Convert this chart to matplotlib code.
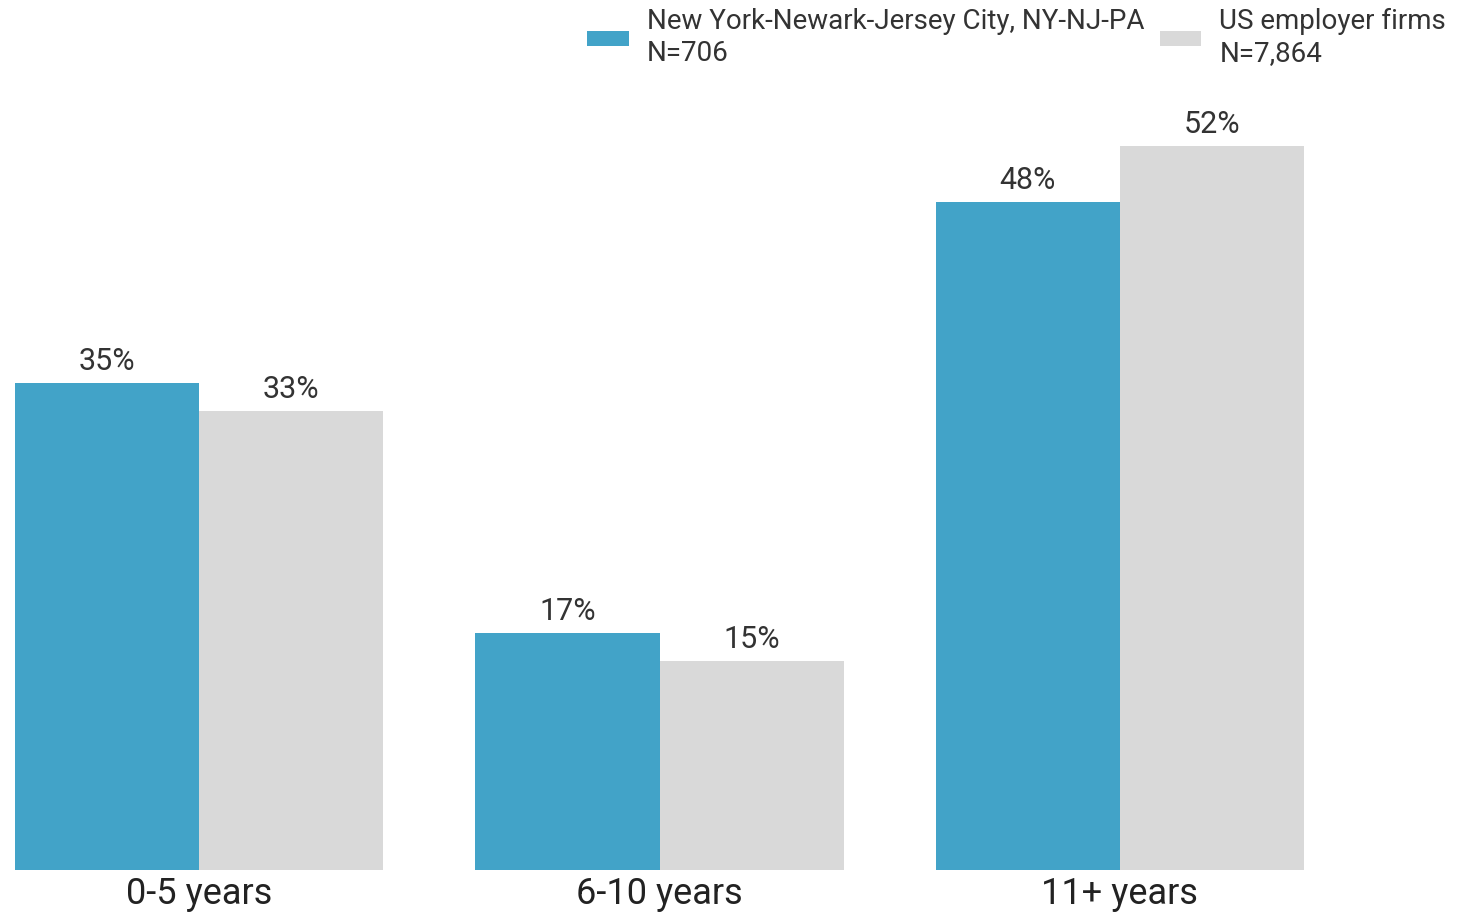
import numpy as np
import matplotlib.pyplot as plt

plt.rcParams['font.family'] = ['Roboto', 'DejaVu Sans']

categories = ['0-5 years', '6-10 years', '11+ years']
metro = [35, 17, 48]
us = [33, 15, 52]
labels = ['New York-Newark-Jersey City, NY-NJ-PA\nN=706', 'US employer firms\nN=7,864']
colors = ['#42A3C8', '#D9D9D9']

fig = plt.figure(figsize=(14.6, 9.14), dpi=100)
ax = fig.add_axes([15 / 1460, 44 / 914, 1289 / 1460, 835 / 914])

x = np.arange(len(categories))
w = 0.4
b1 = ax.bar(x - w / 2, metro, w, color=colors[0], label=labels[0])
b2 = ax.bar(x + w / 2, us, w, color=colors[1], label=labels[1])

for bars in (b1, b2):
    for r in bars:
        ax.annotate(f'{r.get_height():.0f}%', (r.get_x() + r.get_width() / 2, r.get_height()),
                    xytext=(0, 5), textcoords='offset points', ha='center', va='bottom',
                    fontsize=22, color='#333333')

ax.set_xlim(-0.4, 2.4)
ax.set_ylim(0, 60)
ax.set_xticks(x)
ax.set_xticklabels(categories, fontsize=26, color='#222222')
ax.tick_params(axis='x', length=0, pad=4)
ax.set_yticks([])
for s in ax.spines.values():
    s.set_visible(False)

fig.legend(loc='upper right', bbox_to_anchor=(1.0, 1.006), ncol=2, frameon=False,
           fontsize=20, handlelength=1.5, handleheight=0.45, handletextpad=0.65,
           columnspacing=0.55, labelcolor='#333333', borderaxespad=0.1)

fig.savefig('out.png', dpi=100)
